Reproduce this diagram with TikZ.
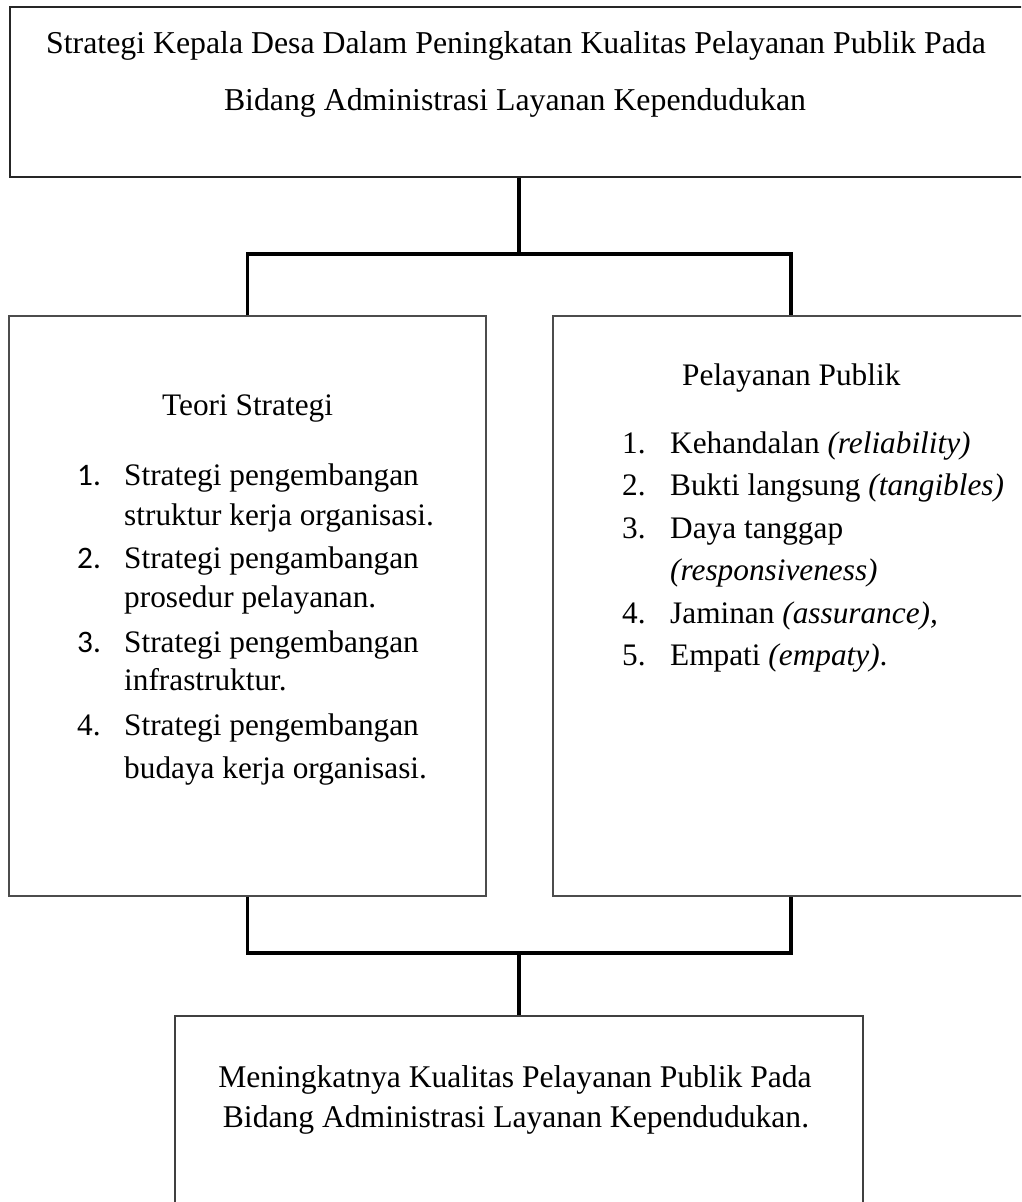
\documentclass[tikz,border=0pt]{standalone}
\usepackage{fontspec}
\setmainfont{Liberation Serif}
\newfontfamily\calibrifont{Carlito}
\newcommand\bigtext{\fontsize{31.3}{42}\selectfont}
\newcommand\toptext{\fontsize{31.8}{42}\selectfont}
\newcommand\bottext{\fontsize{31.6}{42}\selectfont}
\begin{document}
\begin{tikzpicture}[x=1pt,y=-1pt,
  box/.style={draw=black!70, rectangle, line width=1.1pt, inner sep=0pt},
  conn/.style={draw=black, line width=3.6pt, line join=miter, line cap=butt},
  lt/.style={anchor=base west, inner sep=0pt, font=\bigtext},
  ct/.style={anchor=base, inner sep=0pt, font=\bigtext},
]
\useasboundingbox (0,0) rectangle (1021,1202);
\fill[white] (0,0) rectangle (1021,1202);
\clip (0,0) rectangle (1021,1202);

% boxes
\node[box, draw=black!85, minimum width=1018pt, minimum height=170pt] (top) at (519,92) {};
\node[box, minimum width=477pt, minimum height=580pt] (left) at (247.5,606) {};
\node[box, minimum width=476pt, minimum height=580pt] (right) at (791,606) {};
\node[box, draw=black!75, minimum width=688pt, minimum height=214pt] (bottom) at (519,1123) {};

% junctions
\coordinate (j1) at (519,254);
\coordinate (j2) at (519,953);

% connectors
\draw[conn] (top.south) -- (j1);
\draw[conn] (left.north) |- (j1) -| (right.north);
\draw[conn] (left.south) |- (j2) -| (right.south);
\draw[conn] (j2) -- (bottom.north);

% top text
\node[ct, font=\toptext] (t1) at (516,53) {Strategi Kepala Desa Dalam Peningkatan Kualitas Pelayanan Publik Pada};
\node[ct, font=\toptext] (t2) at (515,110) {Bidang Administrasi Layanan Kependudukan};

% left box text
\node[lt] (lh) at (162,415) {Teori Strategi};
\node[lt] (ln1) at (77,485) {\calibrifont 1.};
\node[lt] (l1a) at (124,485) {Strategi pengembangan};
\node[lt] (l1b) at (124,525) {struktur kerja organisasi.};
\node[lt] (ln2) at (77,568) {\calibrifont 2.};
\node[lt] (l2a) at (124,568) {Strategi pengambangan};
\node[lt] (l2b) at (124,607) {prosedur pelayanan.};
\node[lt] (ln3) at (77,652) {\calibrifont 3.};
\node[lt] (l3a) at (124,652) {Strategi pengembangan};
\node[lt] (l3b) at (124,690) {infrastruktur.};
\node[lt] (ln4) at (77,735) {4.};
\node[lt] (l4a) at (124,735) {Strategi pengembangan};
\node[lt] (l4b) at (124,778) {budaya kerja organisasi.};

% right box text
\node[lt] (rh) at (682,385) {Pelayanan Publik};
\node[lt] (rn1) at (622,453) {1.};
\node[lt] (r1) at (670,453) {Kehandalan \textit{(reliability)}};
\node[lt] (rn2) at (622,495) {2.};
\node[lt] (r2) at (670,495) {Bukti langsung \textit{(tangibles)}};
\node[lt] (rn3) at (622,538) {3.};
\node[lt] (r3a) at (670,538) {Daya tanggap};
\node[lt] (r3b) at (670,580) {\textit{(responsiveness)}};
\node[lt] (rn4) at (622,623) {4.};
\node[lt] (r4) at (670,623) {Jaminan \textit{(assurance),}};
\node[lt] (rn5) at (622,665) {5.};
\node[lt] (r5) at (670,665) {Empati \textit{(empaty)}.};

% bottom text
\node[ct, font=\bottext] (b1) at (515,1087) {Meningkatnya Kualitas Pelayanan Publik Pada};
\node[ct, font=\bottext] (b2) at (516,1127) {Bidang Administrasi Layanan Kependudukan.};
\end{tikzpicture}
\end{document}
